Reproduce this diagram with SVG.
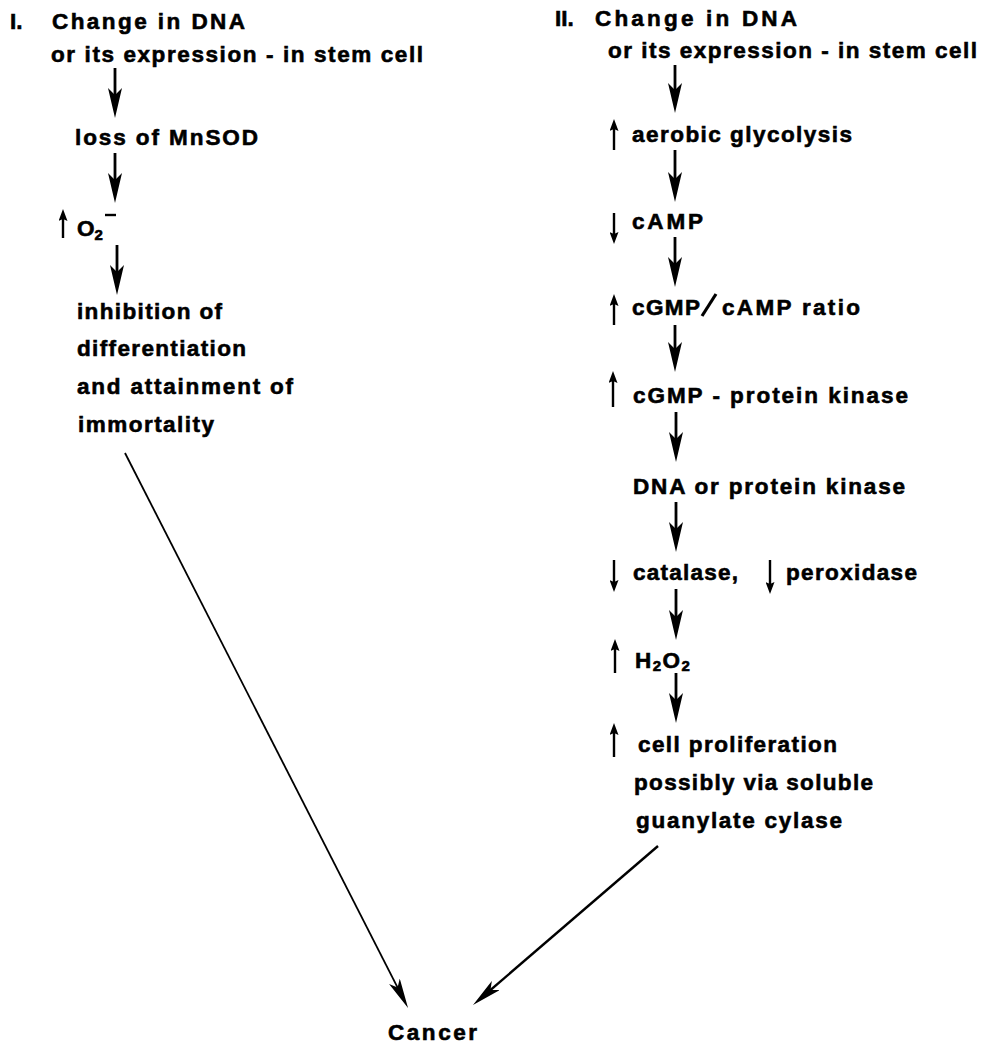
<svg xmlns="http://www.w3.org/2000/svg" width="989" height="1043" viewBox="0 0 989 1043">
<style>
text{font-family:"Liberation Sans",Arial,Helvetica,sans-serif;font-weight:bold;font-size:22.5px;fill:#000;stroke:#000;stroke-width:0.6}
.main{stroke:#000;stroke-width:2.8;fill:none;marker-end:url(#big)}
.small{stroke:#000;stroke-width:2.4;fill:none;marker-end:url(#sm)}
.diag{stroke:#000;stroke-width:1.8;fill:none;marker-end:url(#dg)}
.diag2{stroke:#000;stroke-width:2.4;fill:none;marker-end:url(#dg)}
.sub{font-size:15px}
</style>
<defs>
<marker id="big" viewBox="0 0 30 14" refX="20" refY="7" markerWidth="30" markerHeight="14" markerUnits="userSpaceOnUse" orient="auto"><path d="M30,7 L0,0 L7,7 L0,14 Z" fill="#000"/></marker>
<marker id="dg" viewBox="0 0 30 12" refX="20" refY="6" markerWidth="30" markerHeight="12" markerUnits="userSpaceOnUse" orient="auto"><path d="M30,6 L0,0 L7,6 L0,12 Z" fill="#000"/></marker>
<marker id="sm" viewBox="0 0 12 9" refX="7" refY="4.5" markerWidth="12" markerHeight="9" markerUnits="userSpaceOnUse" orient="auto"><path d="M12,4.5 L0,0 L2,4.5 L0,9 Z" fill="#000"/></marker>
</defs>
<rect width="989" height="1043" fill="#fff"/>

<g id="connectors">
<line class="main" x1="115" y1="68" x2="115" y2="108"/>
<line class="main" x1="115" y1="153" x2="115" y2="193"/>
<line class="main" x1="117" y1="245" x2="117" y2="285"/>
<line class="main" x1="675" y1="65" x2="675" y2="103"/>
<line class="main" x1="675" y1="150" x2="675" y2="192"/>
<line class="main" x1="675" y1="237" x2="675" y2="277"/>
<line class="main" x1="675" y1="325" x2="675" y2="362"/>
<line class="main" x1="676" y1="412" x2="676" y2="452"/>
<line class="main" x1="676" y1="502" x2="676" y2="542"/>
<line class="main" x1="676" y1="589" x2="676" y2="630"/>
<line class="main" x1="676" y1="673" x2="676" y2="713"/>
<line class="diag" x1="125" y1="453" x2="403.5" y2="999.1"/>
<line class="diag2" x1="658" y1="846" x2="480.6" y2="998.5"/>
</g>

<g id="node-I-start">
<text x="10" y="29">I.</text>
<text x="52" y="29" textLength="193" lengthAdjust="spacing">Change in DNA</text>
<text x="51" y="62" textLength="372" lengthAdjust="spacing">or its expression - in stem cell</text>
</g>
<g id="node-I-mnsod">
<text x="75" y="145" textLength="183" lengthAdjust="spacing">loss of MnSOD</text>
</g>
<g id="node-I-o2">
<line class="small" x1="63" y1="238" x2="63" y2="214"/>
<text x="77" y="236">O<tspan class="sub" dy="4">2</tspan></text>
<line x1="105" y1="215" x2="116" y2="215" stroke="#000" stroke-width="2.4"/>
</g>
<g id="node-I-inhibition">
<text x="77" y="319" textLength="145" lengthAdjust="spacing">inhibition of</text>
<text x="77" y="356" textLength="169" lengthAdjust="spacing">differentiation</text>
<text x="77" y="394" textLength="216" lengthAdjust="spacing">and attainment of</text>
<text x="78" y="432" textLength="136" lengthAdjust="spacing">immortality</text>
</g>

<g id="node-II-start">
<text x="555" y="26">II.</text>
<text x="595" y="26" textLength="202" lengthAdjust="spacing">Change in DNA</text>
<text x="608" y="58" textLength="369" lengthAdjust="spacing">or its expression - in stem cell</text>
</g>
<g id="node-II-glycolysis">
<line class="small" x1="614" y1="150" x2="614" y2="124"/>
<text x="632" y="142" textLength="220" lengthAdjust="spacing">aerobic glycolysis</text>
</g>
<g id="node-II-camp">
<line class="small" x1="614" y1="213" x2="614" y2="239"/>
<text x="632" y="229" textLength="71" lengthAdjust="spacing">cAMP</text>
</g>
<g id="node-II-ratio">
<line class="small" x1="614" y1="325" x2="614" y2="299"/>
<text x="632" y="315" textLength="68" lengthAdjust="spacing">cGMP</text>
<line x1="716" y1="294" x2="702" y2="316" stroke="#000" stroke-width="3.2"/>
<text x="722" y="315" textLength="138" lengthAdjust="spacing">cAMP ratio</text>
</g>
<g id="node-II-cgmp-kinase">
<line class="small" x1="613" y1="407" x2="613" y2="376"/>
<text x="633" y="403" textLength="275" lengthAdjust="spacing">cGMP - protein kinase</text>
</g>
<g id="node-II-dna-kinase">
<text x="633" y="494" textLength="272" lengthAdjust="spacing">DNA or protein kinase</text>
</g>
<g id="node-II-catalase">
<line class="small" x1="614" y1="560" x2="614" y2="587"/>
<text x="633" y="580" textLength="105" lengthAdjust="spacing">catalase,</text>
<line class="small" x1="770" y1="560" x2="770" y2="589"/>
<text x="786" y="580" textLength="131" lengthAdjust="spacing">peroxidase</text>
</g>
<g id="node-II-h2o2">
<line class="small" x1="615" y1="673" x2="615" y2="644"/>
<text x="635" y="668" letter-spacing="1.5">H<tspan class="sub" dy="3">2</tspan><tspan dy="-3">O</tspan><tspan class="sub" dy="3">2</tspan></text>
</g>
<g id="node-II-proliferation">
<line class="small" x1="614" y1="757" x2="614" y2="728"/>
<text x="638" y="752" textLength="199" lengthAdjust="spacing">cell proliferation</text>
<text x="634" y="790" textLength="239" lengthAdjust="spacing">possibly via soluble</text>
<text x="636" y="828" textLength="206" lengthAdjust="spacing">guanylate cylase</text>
</g>

<g id="node-cancer">
<text x="388" y="1040" textLength="89" lengthAdjust="spacing">Cancer</text>
</g>
</svg>
